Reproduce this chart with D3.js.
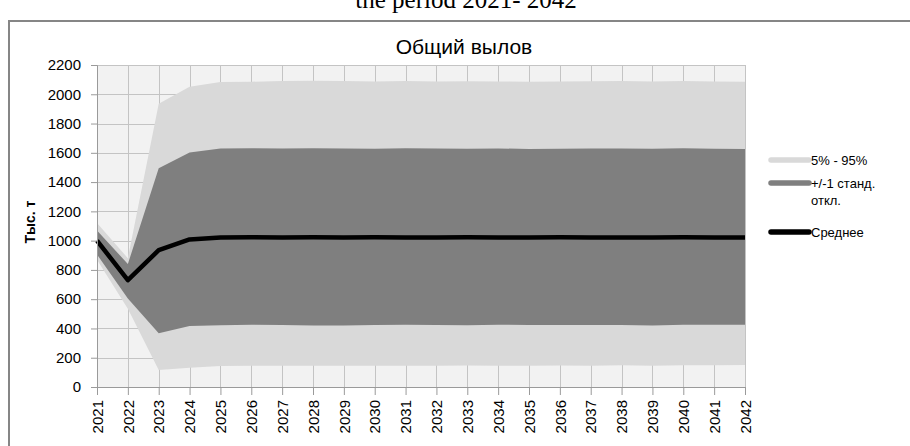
<!DOCTYPE html>
<html>
<head>
<meta charset="utf-8">
<script src="https://cdn.jsdelivr.net/npm/d3@7/dist/d3.min.js"></script>
<style>
  html, body { margin: 0; padding: 0; background: #ffffff; }
  svg { display: block; }
</style>
</head>
<body>
<svg id="chart" width="910" height="446"></svg>
<script>
// Annual total catch projection, thousand tonnes
const years = d3.range(2021, 2043);
const p95   = [1120, 880, 1935, 2052, 2084, 2086, 2090, 2092, 2090, 2088, 2090, 2087, 2089, 2088, 2086, 2087, 2089, 2090, 2088, 2090, 2088, 2086];
const sdUp  = [1070, 840, 1495, 1602, 1630, 1632, 1630, 1632, 1630, 1628, 1632, 1630, 1628, 1630, 1626, 1628, 1630, 1630, 1628, 1632, 1628, 1626];
const mean  = [1000, 730, 935, 1008, 1022, 1023, 1022, 1023, 1022, 1023, 1022, 1022, 1023, 1022, 1022, 1023, 1022, 1022, 1022, 1023, 1022, 1022];
const sdDn  = [905, 605, 368, 416, 422, 425, 424, 420, 420, 424, 425, 424, 422, 425, 424, 424, 424, 423, 420, 425, 426, 426];
const p05   = [870, 535, 116, 132, 143, 145, 146, 145, 145, 146, 145, 146, 147, 146, 146, 147, 146, 148, 146, 148, 148, 150];
const yTicks = d3.range(0, 2201, 200);
const legendLabels = [["5% - 95%"], ["+/-1 станд.", "откл."], ["Среднее"]];

const svg = d3.select("#chart");
const plotL = 97, plotR = 745, plotT = 65, plotB = 387;

const x = d3.scalePoint().domain(years).range([plotL, plotR]);
const y = d3.scaleLinear().domain([0, 2200]).range([plotB, plotT]);

// caption above the chart frame
svg.append("text")
  .attr("x", 466).attr("y", 8)
  .attr("text-anchor", "middle")
  .style("font-family", "'Liberation Serif', 'DejaVu Serif', serif")
  .style("font-size", "25px")
  .text("the period 2021- 2042");

// chart frame
svg.append("rect")
  .attr("x", 9).attr("y", 21)
  .attr("width", 1000).attr("height", 1000)
  .attr("fill", "#ffffff")
  .attr("stroke", "#868686").attr("stroke-width", 2);

// plot background
svg.append("rect")
  .attr("x", plotL).attr("y", plotT)
  .attr("width", plotR - plotL).attr("height", plotB - plotT)
  .attr("fill", "#f2f2f2");

// grid
const grid = svg.append("g").attr("stroke", "#c4c4c4").attr("stroke-width", 1);
grid.selectAll("line.h").data(yTicks.filter(d => d > 0)).join("line")
  .attr("x1", plotL).attr("x2", plotR)
  .attr("y1", d => Math.round(y(d)) + 0.5).attr("y2", d => Math.round(y(d)) + 0.5);
grid.selectAll("line.v").data(years.slice(1)).join("line")
  .attr("y1", plotT).attr("y2", plotB)
  .attr("x1", d => Math.round(x(d)) + 0.5).attr("x2", d => Math.round(x(d)) + 0.5);

// bands
const idx = d3.range(years.length);
const band = (lo, hi) => d3.area()
  .x(i => x(years[i]))
  .y0(i => y(lo[i]))
  .y1(i => y(hi[i]));

svg.append("path").datum(idx).attr("d", band(p05, p95)).attr("fill", "#d9d9d9");
svg.append("path").datum(idx).attr("d", band(sdDn, sdUp)).attr("fill", "#7f7f7f");

// mean line
svg.append("path").datum(idx)
  .attr("d", d3.line().x(i => x(years[i])).y(i => y(mean[i])))
  .attr("fill", "none").attr("stroke", "#000000")
  .attr("stroke-width", 4.5).attr("stroke-linejoin", "round");

// axes
const yAxis = svg.append("g")
  .attr("transform", `translate(${plotL},0)`)
  .call(d3.axisLeft(y).tickValues(yTicks).tickFormat(d3.format("d")).tickSize(6).tickPadding(10));
const xAxis = svg.append("g")
  .attr("transform", `translate(0,${plotB})`)
  .call(d3.axisBottom(x).tickSize(8).tickPadding(0));

[yAxis, xAxis].forEach(a => {
  a.select(".domain").attr("stroke", "#9a9a9a");
  a.selectAll(".tick line").attr("stroke", "#9a9a9a");
  a.selectAll("text")
    .attr("fill", "#000")
    .style("font-family", "'Liberation Sans', Arial, sans-serif")
    .style("font-size", "15px");
});
xAxis.selectAll(".tick text")
  .attr("transform", "rotate(-90)")
  .attr("text-anchor", "end")
  .attr("x", -13).attr("y", 0)
  .attr("dy", "0.35em");

// axis title
svg.append("text")
  .attr("transform", "translate(35,222) rotate(-90)")
  .attr("text-anchor", "middle")
  .style("font-family", "'Liberation Sans', Arial, sans-serif")
  .style("font-size", "14px")
  .style("font-weight", "bold")
  .text("Тыс. т");

// chart title
svg.append("text")
  .attr("x", 464).attr("y", 54)
  .attr("text-anchor", "middle")
  .style("font-family", "'Liberation Sans Narrow', 'Liberation Sans', sans-serif")
  .style("font-size", "21px")
  .text("Общий вылов");

// legend
const legendColors = ["#d9d9d9", "#7f7f7f", "#000000"];
const legendY = [160, 183, 232];
const lg = svg.append("g");
legendLabels.forEach((lines, k) => {
  lg.append("line")
    .attr("x1", 771).attr("x2", 809)
    .attr("y1", legendY[k]).attr("y2", legendY[k])
    .attr("stroke", legendColors[k]).attr("stroke-width", 5.5)
    .attr("stroke-linecap", "round");
  const t = lg.append("text")
    .attr("x", 811).attr("y", legendY[k])
    .style("font-family", "'Liberation Sans', Arial, sans-serif")
    .style("font-size", "13px");
  lines.forEach((s, j) => {
    t.append("tspan").attr("x", 811).attr("dy", j === 0 ? "0.35em" : "1.35em").text(s);
  });
});
</script>
</body>
</html>
